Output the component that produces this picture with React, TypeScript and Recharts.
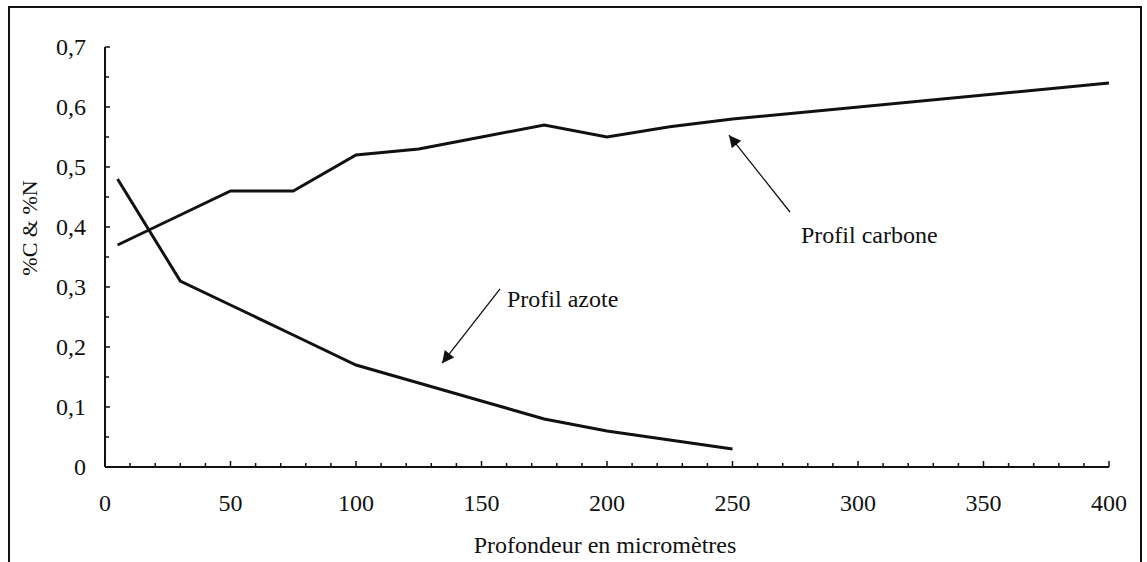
import { LineChart, Line, XAxis, YAxis } from 'recharts'

// depth (µm) and measured %C / %N
const depth = [5, 30, 50, 75, 100, 125, 150, 175, 200, 225, 250, 400]
const carbon = [0.37, 0.42, 0.46, 0.46, 0.52, 0.53, 0.55, 0.57, 0.55, 0.567, 0.58, 0.64]
const nitrogen = [0.48, 0.31, 0.27, 0.22, 0.17, 0.14, 0.11, 0.08, 0.06, 0.045, 0.03, null]

const xTicks = Array.from({ length: 41 }, (_, i) => i * 10)
const yTicks = [0, 0.05, 0.1, 0.15, 0.2, 0.25, 0.3, 0.35, 0.4, 0.45, 0.5, 0.55, 0.6, 0.65, 0.7]

const data = depth.map((d, i) => ({ depth: d, carbone: carbon[i], azote: nitrogen[i] }))

const W = 1147
const H = 562
const LEFT = 105
const RIGHT = 1109
const TOP = 47
const BOTTOM = 467
const FONT = '"Liberation Serif", "Times New Roman", serif'
const INK = '#111'

// pixel helpers for the annotation overlay
const px = (x: number) => LEFT + (x / 400) * (RIGHT - LEFT)
const py = (y: number) => BOTTOM - (y / 0.7) * (BOTTOM - TOP)

function XTick({ x, y, payload }: any) {
  const major = payload.value % 50 === 0
  return (
    <g>
      <line x1={x} x2={x} y1={y} y2={y - (major ? 6 : 4)} stroke={INK} strokeWidth={1.5} />
      {major && (
        <text x={x} y={y + 44} textAnchor="middle" fontFamily={FONT} fontSize={24} fill={INK}>
          {payload.value}
        </text>
      )}
    </g>
  )
}

function YTick({ x, y, payload }: any) {
  const v = Math.round(payload.value * 100)
  const major = v % 10 === 0
  const label = v === 0 ? '0' : '0,' + v / 10
  return (
    <g>
      <line x1={x} x2={x + (major ? 5 : 4)} y1={y} y2={y} stroke={INK} strokeWidth={1.5} />
      {major && (
        <text x={x - 19} y={y + 8} textAnchor="end" fontFamily={FONT} fontSize={24} fill={INK}>
          {label}
        </text>
      )}
    </g>
  )
}

export default function App() {
  return (
    <div style={{ position: 'fixed', left: 0, top: 0, width: W, height: H, background: '#fff' }}>
      <div style={{ position: 'absolute', left: 8, top: 6, width: 1134, height: 620, border: '2px solid #111', boxSizing: 'border-box' }} />
      <div style={{ position: 'absolute', left: 0, top: 0 }}>
        <LineChart width={W} height={H} data={data} margin={{ top: TOP, right: W - RIGHT, left: 0, bottom: 0 }}>
          <XAxis
            dataKey="depth"
            type="number"
            domain={[0, 400]}
            ticks={xTicks}
            interval={0}
            tick={<XTick />}
            tickLine={false}
            tickSize={0}
            tickMargin={0}
            height={H - BOTTOM}
            axisLine={{ stroke: INK, strokeWidth: 2 }}
          />
          <YAxis
            type="number"
            domain={[0, 0.7]}
            ticks={yTicks}
            interval={0}
            tick={<YTick />}
            tickLine={false}
            tickSize={0}
            tickMargin={0}
            width={LEFT}
            axisLine={{ stroke: INK, strokeWidth: 2 }}
          />
          <Line dataKey="carbone" stroke={INK} strokeWidth={3} dot={false} isAnimationActive={false} />
          <Line dataKey="azote" stroke={INK} strokeWidth={3} dot={false} isAnimationActive={false} />
        </LineChart>
      </div>
      <svg width={W} height={H} style={{ position: 'absolute', left: 0, top: 0, pointerEvents: 'none' }}>
        <defs>
          <marker id="head" viewBox="0 0 10 10" refX="10" refY="5" markerWidth="16" markerHeight="12" markerUnits="userSpaceOnUse" orient="auto">
            <path d="M0,0 L10,5 L0,10 z" fill={INK} />
          </marker>
        </defs>
        <line x1={px(272.9)} y1={py(0.425)} x2={px(248.6)} y2={py(0.553)} stroke={INK} strokeWidth={1.3} markerEnd="url(#head)" />
        <line x1={px(157.4)} y1={py(0.297)} x2={px(134.3)} y2={py(0.173)} stroke={INK} strokeWidth={1.3} markerEnd="url(#head)" />
        <text x={801} y={243} fontFamily={FONT} fontSize={24} fill={INK}>Profil carbone</text>
        <text x={507} y={307} fontFamily={FONT} fontSize={24} fill={INK}>Profil azote</text>
        <text x={605} y={553} textAnchor="middle" fontFamily={FONT} fontSize={24} fill={INK}>Profondeur en micromètres</text>
        <text transform="translate(37,228) rotate(-90)" textAnchor="middle" fontFamily={FONT} fontSize={22} fill={INK}>%C &amp; %N</text>
      </svg>
    </div>
  )
}
